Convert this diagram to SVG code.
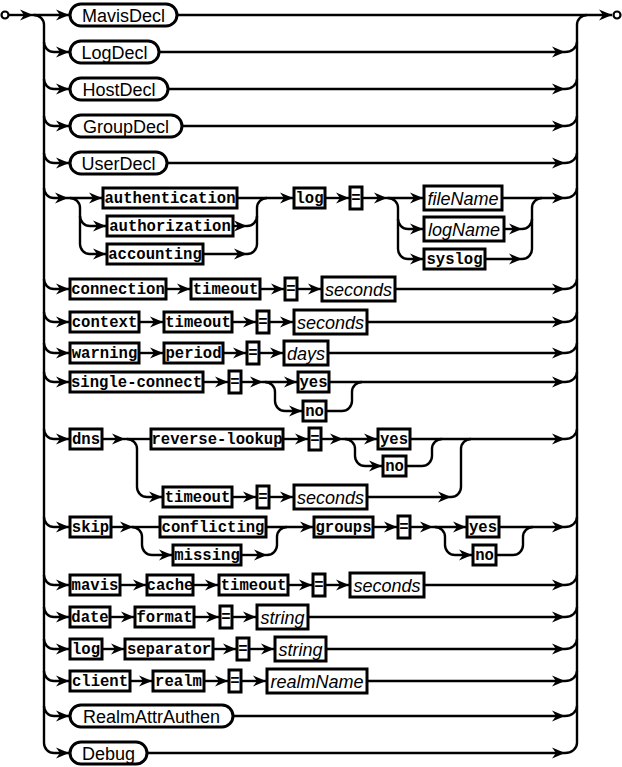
<svg xmlns="http://www.w3.org/2000/svg" width="622" height="767" viewBox="0 0 622 767">
<defs>
<marker id="ah" viewBox="0 0 14 12" markerWidth="14" markerHeight="12" refX="13" refY="6" orient="auto" markerUnits="userSpaceOnUse"><path d="M0,0.5 L13,6 L0,11.5 L4,6 Z" fill="#000"/></marker>
</defs>
<style>
.c{fill:none;stroke:#000;stroke-width:2.4}
.a{fill:none;stroke:#000;stroke-width:2.4;marker-end:url(#ah)}
.n rect,.t rect,.v rect{fill:#fff;stroke:#000;stroke-width:3}
.n text,.v text{font-family:"Liberation Sans",Arial,sans-serif;font-size:18px;text-anchor:middle}
.v text{font-style:italic}
.t text{font-family:"Liberation Mono","Courier New",monospace;font-weight:bold;font-size:15.6px;text-anchor:middle}
.end{fill:#fff;stroke:#000;stroke-width:2.2}
</style>
<g id="connectors">
<path class="a" d="M9,15 H33"/>
<path class="a" d="M33,15 H69"/>
<path class="c" d="M34,15 a10,10 0 0 1 10,10 V743"/>
<path class="a" d="M177,15 H612"/>
<path class="c" d="M577,743 V25 a10,10 0 0 1 10,-10"/>
<path class="a" d="M44,42 a10,10 0 0 0 10,10 H69"/>
<path class="a" d="M44,79 a10,10 0 0 0 10,10 H69"/>
<path class="a" d="M44,116 a10,10 0 0 0 10,10 H69"/>
<path class="a" d="M44,153 a10,10 0 0 0 10,10 H69"/>
<path class="a" d="M44,188 a10,10 0 0 0 10,10 H68"/>
<path class="a" d="M44,279 a10,10 0 0 0 10,10 H69"/>
<path class="a" d="M44,312 a10,10 0 0 0 10,10 H69"/>
<path class="a" d="M44,343 a10,10 0 0 0 10,10 H69"/>
<path class="a" d="M44,372 a10,10 0 0 0 10,10 H69"/>
<path class="a" d="M44,429 a10,10 0 0 0 10,10 H69"/>
<path class="a" d="M44,517 a10,10 0 0 0 10,10 H69"/>
<path class="a" d="M44,575 a10,10 0 0 0 10,10 H69"/>
<path class="a" d="M44,607 a10,10 0 0 0 10,10 H69"/>
<path class="a" d="M44,639 a10,10 0 0 0 10,10 H69"/>
<path class="a" d="M44,671 a10,10 0 0 0 10,10 H69"/>
<path class="a" d="M44,706 a10,10 0 0 0 10,10 H69"/>
<path class="a" d="M44,743 a10,10 0 0 0 10,10 H69"/>
<path class="c" d="M565,52 a12,10 0 0 0 12,-10"/>
<path class="c" d="M565,89 a12,10 0 0 0 12,-10"/>
<path class="c" d="M565,126 a12,10 0 0 0 12,-10"/>
<path class="c" d="M565,163 a12,10 0 0 0 12,-10"/>
<path class="c" d="M565,198 a12,10 0 0 0 12,-10"/>
<path class="c" d="M565,289 a12,10 0 0 0 12,-10"/>
<path class="c" d="M565,322 a12,10 0 0 0 12,-10"/>
<path class="c" d="M565,353 a12,10 0 0 0 12,-10"/>
<path class="c" d="M565,382 a12,10 0 0 0 12,-10"/>
<path class="c" d="M565,439 a12,10 0 0 0 12,-10"/>
<path class="c" d="M565,527 a12,10 0 0 0 12,-10"/>
<path class="c" d="M565,585 a12,10 0 0 0 12,-10"/>
<path class="c" d="M565,617 a12,10 0 0 0 12,-10"/>
<path class="c" d="M565,649 a12,10 0 0 0 12,-10"/>
<path class="c" d="M565,681 a12,10 0 0 0 12,-10"/>
<path class="c" d="M565,716 a12,10 0 0 0 12,-10"/>
<path class="c" d="M565,753 a12,10 0 0 0 12,-10"/>
<path class="a" d="M159,52 H565"/>
<path class="a" d="M168,89 H565"/>
<path class="a" d="M182,126 H565"/>
<path class="a" d="M167,163 H565"/>
<path class="a" d="M233,716 H565"/>
<path class="a" d="M147,753 H565"/>
<path class="a" d="M68,198 H102"/>
<path class="a" d="M70,198 a10,10 0 0 1 10,10 V244 a10,10 0 0 0 10,10 H106"/>
<path class="a" d="M80,216 a10,10 0 0 0 10,10 H106"/>
<path class="a" d="M237,198 H293"/>
<path class="a" d="M233,226 H247"/>
<path class="a" d="M203,254 H247"/>
<path class="c" d="M247,254 a10,10 0 0 0 10,-10 V208 a10,10 0 0 1 10,-10"/>
<path class="c" d="M247,226 a10,10 0 0 0 10,-10"/>
<path class="a" d="M325,198 H349"/>
<path class="a" d="M362,198 H387"/>
<path class="a" d="M387,198 H423"/>
<path class="a" d="M388,198 a10,10 0 0 1 10,10 V249 a10,10 0 0 0 10,10 H423"/>
<path class="a" d="M398,219 a10,10 0 0 0 10,10 H423"/>
<path class="a" d="M502,198 H565"/>
<path class="a" d="M504,229 H522"/>
<path class="a" d="M485,259 H522"/>
<path class="c" d="M522,259 a10,10 0 0 0 10,-10 V208 a10,10 0 0 1 10,-10"/>
<path class="c" d="M522,229 a10,10 0 0 0 10,-10"/>
<path class="a" d="M166,289 H190"/>
<path class="a" d="M260,289 H284"/>
<path class="a" d="M297,289 H321"/>
<path class="a" d="M395,289 H565"/>
<path class="a" d="M139,322 H163"/>
<path class="a" d="M232,322 H256"/>
<path class="a" d="M269,322 H293"/>
<path class="a" d="M367,322 H565"/>
<path class="a" d="M139,353 H163"/>
<path class="a" d="M223,353 H246"/>
<path class="a" d="M259,353 H283"/>
<path class="a" d="M328,353 H565"/>
<path class="a" d="M203,382 H228"/>
<path class="a" d="M241,382 H263"/>
<path class="a" d="M263,382 H297"/>
<path class="a" d="M265,382 a10,10 0 0 1 10,10 V401 a10,10 0 0 0 10,10 H302"/>
<path class="c" d="M326,411 H342 a10,10 0 0 0 10,-10 V392 a10,10 0 0 1 10,-10"/>
<path class="a" d="M329,382 H565"/>
<path class="a" d="M102,439 H125"/>
<path class="c" d="M125,439 H151"/>
<path class="a" d="M283,439 H308"/>
<path class="a" d="M321,439 H343"/>
<path class="a" d="M343,439 H377"/>
<path class="a" d="M345,439 a10,10 0 0 1 10,10 V456 a10,10 0 0 0 10,10 H382"/>
<path class="c" d="M406,466 H422 a10,10 0 0 0 10,-10 V449 a10,10 0 0 1 10,-10"/>
<path class="a" d="M410,439 H565"/>
<path class="a" d="M127,439 a10,10 0 0 1 10,10 V487 a10,10 0 0 0 10,10 H162"/>
<path class="a" d="M232,497 H256"/>
<path class="a" d="M269,497 H293"/>
<path class="a" d="M367,497 H451"/>
<path class="c" d="M451,497 a10,10 0 0 0 10,-10 V449 a10,10 0 0 1 10,-10"/>
<path class="a" d="M111,527 H133"/>
<path class="c" d="M133,527 H160"/>
<path class="a" d="M132,527 a10,10 0 0 1 10,10 V545 a10,10 0 0 0 10,10 H172"/>
<path class="a" d="M241,555 H267"/>
<path class="c" d="M267,555 a10,10 0 0 0 10,-10 V537 a10,10 0 0 1 10,-10"/>
<path class="a" d="M266,527 H313"/>
<path class="a" d="M373,527 H397"/>
<path class="a" d="M410,527 H433"/>
<path class="a" d="M433,527 H466"/>
<path class="a" d="M435,527 a10,10 0 0 1 10,10 V545 a10,10 0 0 0 10,10 H472"/>
<path class="c" d="M496,555 H513 a10,10 0 0 0 10,-10 V537 a10,10 0 0 1 10,-10"/>
<path class="a" d="M499,527 H565"/>
<path class="a" d="M120,585 H146"/>
<path class="a" d="M193,585 H218"/>
<path class="a" d="M288,585 H312"/>
<path class="a" d="M325,585 H349"/>
<path class="a" d="M424,585 H565"/>
<path class="a" d="M110,617 H134"/>
<path class="a" d="M194,617 H219"/>
<path class="a" d="M232,617 H256"/>
<path class="a" d="M308,617 H565"/>
<path class="a" d="M102,649 H124"/>
<path class="a" d="M213,649 H236"/>
<path class="a" d="M249,649 H274"/>
<path class="a" d="M326,649 H565"/>
<path class="a" d="M130,681 H152"/>
<path class="a" d="M204,681 H228"/>
<path class="a" d="M241,681 H266"/>
<path class="a" d="M367,681 H565"/>
</g>
<g id="start"><circle class="end" cx="5" cy="15" r="3.5"/></g>
<g id="end"><circle class="end" cx="617" cy="15" r="3.5"/></g>
<g id="MavisDecl" class="n"><rect x="70" y="4" width="107" height="22" rx="11"/><text x="123.5" y="21.5">MavisDecl</text></g>
<g id="LogDecl" class="n"><rect x="70" y="41" width="89" height="22" rx="11"/><text x="114.5" y="58.5">LogDecl</text></g>
<g id="HostDecl" class="n"><rect x="70" y="78" width="98" height="22" rx="11"/><text x="119" y="95.5">HostDecl</text></g>
<g id="GroupDecl" class="n"><rect x="70" y="115" width="112" height="22" rx="11"/><text x="126" y="132.5">GroupDecl</text></g>
<g id="UserDecl" class="n"><rect x="70" y="152" width="97" height="22" rx="11"/><text x="118.5" y="169.5">UserDecl</text></g>
<g id="RealmAttrAuthen" class="n"><rect x="70" y="705" width="163" height="22" rx="11"/><text x="151.5" y="722.5">RealmAttrAuthen</text></g>
<g id="Debug" class="n"><rect x="70" y="742" width="77" height="22" rx="11"/><text x="108.5" y="759.5">Debug</text></g>
<g id="authentication" class="t"><rect x="103" y="188" width="134" height="20"/><text x="170" y="202.5">authentication</text></g>
<g id="authorization" class="t"><rect x="107" y="216" width="126" height="20"/><text x="170" y="230.5">authorization</text></g>
<g id="accounting" class="t"><rect x="107" y="244" width="96" height="20"/><text x="155" y="258.5">accounting</text></g>
<g id="log1" class="t"><rect x="294" y="188" width="31" height="20"/><text x="309.5" y="202.5">log</text></g>
<g id="eq1" class="t"><rect x="350" y="187" width="12" height="22"/><text x="356" y="203">=</text></g>
<g id="fileName" class="v"><rect x="424" y="186" width="78" height="24"/><text x="463" y="204.5">fileName</text></g>
<g id="logName" class="v"><rect x="424" y="217" width="80" height="24"/><text x="464" y="235.5">logName</text></g>
<g id="syslog" class="t"><rect x="424" y="249" width="61" height="20"/><text x="454.5" y="263.5">syslog</text></g>
<g id="connection" class="t"><rect x="70" y="279" width="96" height="20"/><text x="118" y="293.5">connection</text></g>
<g id="timeout1" class="t"><rect x="191" y="279" width="69" height="20"/><text x="225.5" y="293.5">timeout</text></g>
<g id="eq2" class="t"><rect x="285" y="278" width="12" height="22"/><text x="291" y="294">=</text></g>
<g id="seconds1" class="v"><rect x="322" y="277" width="73" height="24"/><text x="358.5" y="295.5">seconds</text></g>
<g id="context" class="t"><rect x="70" y="312" width="69" height="20"/><text x="104.5" y="326.5">context</text></g>
<g id="timeout2" class="t"><rect x="164" y="312" width="68" height="20"/><text x="198" y="326.5">timeout</text></g>
<g id="eq3" class="t"><rect x="257" y="311" width="12" height="22"/><text x="263" y="327">=</text></g>
<g id="seconds2" class="v"><rect x="294" y="310" width="73" height="24"/><text x="330.5" y="328.5">seconds</text></g>
<g id="warning" class="t"><rect x="70" y="343" width="69" height="20"/><text x="104.5" y="357.5">warning</text></g>
<g id="period" class="t"><rect x="164" y="343" width="59" height="20"/><text x="193.5" y="357.5">period</text></g>
<g id="eq4" class="t"><rect x="247" y="342" width="12" height="22"/><text x="253" y="358">=</text></g>
<g id="days" class="v"><rect x="284" y="341" width="44" height="24"/><text x="306" y="359.5">days</text></g>
<g id="single-connect" class="t"><rect x="70" y="372" width="133" height="20"/><text x="136.5" y="386.5">single-connect</text></g>
<g id="eq5" class="t"><rect x="229" y="371" width="12" height="22"/><text x="235" y="387">=</text></g>
<g id="yes1" class="t"><rect x="298" y="372" width="31" height="20"/><text x="313.5" y="386.5">yes</text></g>
<g id="no1" class="t"><rect x="303" y="401" width="23" height="20"/><text x="314.5" y="415.5">no</text></g>
<g id="dns" class="t"><rect x="70" y="429" width="32" height="20"/><text x="86" y="443.5">dns</text></g>
<g id="reverse-lookup" class="t"><rect x="151" y="429" width="132" height="20"/><text x="217" y="443.5">reverse-lookup</text></g>
<g id="eq6" class="t"><rect x="309" y="428" width="12" height="22"/><text x="315" y="444">=</text></g>
<g id="yes2" class="t"><rect x="378" y="429" width="32" height="20"/><text x="394" y="443.5">yes</text></g>
<g id="no2" class="t"><rect x="383" y="456" width="23" height="20"/><text x="394.5" y="470.5">no</text></g>
<g id="timeout3" class="t"><rect x="163" y="487" width="69" height="20"/><text x="197.5" y="501.5">timeout</text></g>
<g id="eq7" class="t"><rect x="257" y="486" width="12" height="22"/><text x="263" y="502">=</text></g>
<g id="seconds3" class="v"><rect x="294" y="485" width="73" height="24"/><text x="330.5" y="503.5">seconds</text></g>
<g id="skip" class="t"><rect x="70" y="517" width="41" height="20"/><text x="90.5" y="531.5">skip</text></g>
<g id="conflicting" class="t"><rect x="160" y="517" width="106" height="20"/><text x="213" y="531.5">conflicting</text></g>
<g id="missing" class="t"><rect x="173" y="545" width="68" height="20"/><text x="207" y="559.5">missing</text></g>
<g id="groups" class="t"><rect x="314" y="517" width="59" height="20"/><text x="343.5" y="531.5">groups</text></g>
<g id="eq8" class="t"><rect x="398" y="516" width="12" height="22"/><text x="404" y="532">=</text></g>
<g id="yes3" class="t"><rect x="467" y="517" width="32" height="20"/><text x="483" y="531.5">yes</text></g>
<g id="no3" class="t"><rect x="473" y="545" width="23" height="20"/><text x="484.5" y="559.5">no</text></g>
<g id="mavis" class="t"><rect x="70" y="575" width="50" height="20"/><text x="95" y="589.5">mavis</text></g>
<g id="cache" class="t"><rect x="147" y="575" width="46" height="20"/><text x="170" y="589.5">cache</text></g>
<g id="timeout4" class="t"><rect x="219" y="575" width="69" height="20"/><text x="253.5" y="589.5">timeout</text></g>
<g id="eq9" class="t"><rect x="313" y="574" width="12" height="22"/><text x="319" y="590">=</text></g>
<g id="seconds4" class="v"><rect x="350" y="573" width="74" height="24"/><text x="387" y="591.5">seconds</text></g>
<g id="date" class="t"><rect x="70" y="607" width="40" height="20"/><text x="90" y="621.5">date</text></g>
<g id="format" class="t"><rect x="135" y="607" width="59" height="20"/><text x="164.5" y="621.5">format</text></g>
<g id="eq10" class="t"><rect x="220" y="606" width="12" height="22"/><text x="226" y="622">=</text></g>
<g id="string1" class="v"><rect x="257" y="605" width="51" height="24"/><text x="282.5" y="623.5">string</text></g>
<g id="log2" class="t"><rect x="70" y="639" width="32" height="20"/><text x="86" y="653.5">log</text></g>
<g id="separator" class="t"><rect x="125" y="639" width="88" height="20"/><text x="169" y="653.5">separator</text></g>
<g id="eq11" class="t"><rect x="237" y="638" width="12" height="22"/><text x="243" y="654">=</text></g>
<g id="string2" class="v"><rect x="275" y="637" width="51" height="24"/><text x="300.5" y="655.5">string</text></g>
<g id="client" class="t"><rect x="70" y="671" width="60" height="20"/><text x="100" y="685.5">client</text></g>
<g id="realm" class="t"><rect x="153" y="671" width="51" height="20"/><text x="178.5" y="685.5">realm</text></g>
<g id="eq12" class="t"><rect x="229" y="670" width="12" height="22"/><text x="235" y="686">=</text></g>
<g id="realmName" class="v"><rect x="267" y="669" width="100" height="24"/><text x="317" y="687.5">realmName</text></g>
</svg>
